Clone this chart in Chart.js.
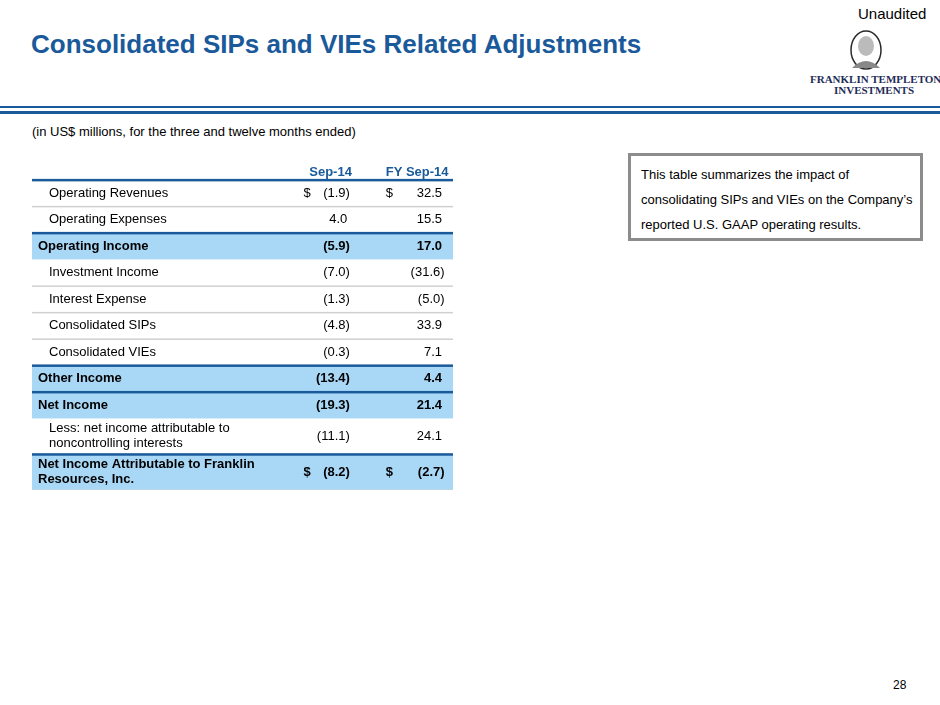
<!DOCTYPE html>
<html>
<head>
<meta charset="utf-8">
<script src="https://cdn.jsdelivr.net/npm/chart.js@4"></script>
<style>
  body { margin: 0; width: 940px; height: 705px; position: relative; background: #fff; font-family: "Liberation Sans", Arial, sans-serif; overflow: hidden; }
  .abs { position: absolute; white-space: nowrap; }
  #title { left: 31px; top: 29px; font-size: 26px; font-weight: bold; color: #1a5a9a; }
  #unaud { left: 858px; top: 5px; font-size: 15px; color: #000; }
  #sub { left: 32px; top: 124px; font-size: 13px; color: #000; }
  #note { left: 628px; top: 153px; width: 279px; height: 76px; border: 3px solid #8c8c8c; font-size: 13px; line-height: 25px; padding: 6px 0 0 10px; box-sizing: content-box; }
  #page { left: 893px; top: 678px; font-size: 12px; }
  .line { position: absolute; left: 0; width: 940px; background: #1a5a9a; }
  .logo { font-family: "Liberation Serif", serif; color: #1f2d58; font-size: 11px; font-weight: bold; }
  #wrap { position: absolute; left: 32px; top: 160px; width: 421px; height: 330px; }
</style>
</head>
<body>
<div class="abs" id="unaud">Unaudited</div>
<div class="abs" id="title">Consolidated SIPs and VIEs Related Adjustments</div>
<svg class="abs" style="left:842px;top:28px" width="48" height="44">
  <ellipse cx="24" cy="22" rx="15" ry="19" fill="none" stroke="#2a2a2a" stroke-width="1.5"/>
  <ellipse cx="24" cy="18" rx="8" ry="10" fill="#bbb"/>
  <path d="M10 40 Q24 26 38 40" fill="#888"/>
</svg>
<div class="abs logo" style="left:810px;top:73px">FRANKLIN TEMPLETON</div>
<div class="abs logo" style="left:834px;top:84px">INVESTMENTS</div>
<div class="line" style="top:106px;height:2px"></div>
<div class="line" style="top:111px;height:3px"></div>
<div class="abs" id="sub">(in US$ millions, for the three and twelve months ended)</div>
<div class="abs" id="note">This table summarizes the impact of<br>consolidating SIPs and VIEs on the Company’s<br>reported U.S. GAAP operating results.</div>
<div class="abs" id="page">28</div>
<div id="wrap"><canvas id="tbl"></canvas></div>
<script>
// dati della tabella
var rowLabels = ["Operating Revenues", "Operating Expenses", "Operating Income", "Investment Income", "Interest Expense",
  "Consolidated SIPs", "Consolidated VIEs", "Other Income", "Net Income",
  "Less: net income attributable to\nnoncontrolling interests", "Net Income Attributable to Franklin\nResources, Inc."];
var colHeaders = ["Sep-14", "FY Sep-14"];
var sep14 = [-1.9, 4.0, -5.9, -7.0, -1.3, -4.8, -0.3, -13.4, -19.3, -11.1, -8.2];
var fySep14 = [32.5, 15.5, 17.0, -31.6, -5.0, 33.9, 7.1, 4.4, 21.4, 24.1, -2.7];
var totalRows = [false, false, true, false, false, false, false, true, true, false, true];
var dollarRows = [true, false, false, false, false, false, false, false, false, false, true];
var rowSpan = [1, 1, 1, 1, 1, 1, 1, 1, 1, 1.35, 1.35];

// confini delle righe in "unità riga"
var bounds = [0];
for (var i = 0; i < rowSpan.length; i++) bounds.push(bounds[i] + rowSpan[i]);
var headUnits = 0.75;

function fmt(v) {
  var s = Math.abs(v).toFixed(1);
  return v < 0 ? "(" + s + ")" : s + "\u2009";
}

var tablePlugin = {
  id: "tablePlugin",
  afterDraw: function (chart) {
    var ctx = chart.ctx;
    var y = chart.scales.y;
    var x = chart.scales.x;
    var left = x.getPixelForValue(0), right = x.getPixelForValue(100);
    var c1 = x.getPixelForValue(75.5), c2 = x.getPixelForValue(98);
    var d1 = x.getPixelForValue(64.5), d2 = x.getPixelForValue(84);
    ctx.save();
    // intestazione
    ctx.font = "bold 13px 'Liberation Sans', Arial";
    ctx.fillStyle = "#1a5a9a";
    ctx.textAlign = "right";
    ctx.textBaseline = "middle";
    var hy = y.getPixelForValue(-headUnits / 2 + 0.1);
    ctx.fillText(colHeaders[0], c1 + 2, hy);
    ctx.fillText(colHeaders[1], c2 + 4, hy);
    for (var i = 0; i < rowLabels.length; i++) {
      var top = y.getPixelForValue(bounds[i]), bot = y.getPixelForValue(bounds[i + 1]);
      var mid = (top + bot) / 2;
      if (totalRows[i]) {
        ctx.fillStyle = "#a8d8f6";
        ctx.fillRect(left, top, right - left, bot - top);
        ctx.fillStyle = "#1a5a9a";
        ctx.fillRect(left, top - 1, right - left, 2.5);
      } else {
        if (i === 0) {
          ctx.fillStyle = "#1a5a9a";
          ctx.fillRect(left, top - 1, right - left, 2.5);
        }
        ctx.fillStyle = "#d0d0d0";
        ctx.fillRect(left, bot - 0.5, right - left, 1.5);
      }
      if (i === rowLabels.length - 1) {
        ctx.fillStyle = "#d0d0d0";
        ctx.fillRect(left, bot - 0.5, right - left, 1.5);
      }
      ctx.fillStyle = "#000";
      ctx.font = (totalRows[i] ? "bold " : "") + "13px 'Liberation Sans', Arial";
      ctx.textAlign = "left";
      var lines = rowLabels[i].split("\n");
      var lx = totalRows[i] ? left + 6 : left + 17;
      for (var k = 0; k < lines.length; k++) {
        ctx.fillText(lines[k], lx, mid + (k - (lines.length - 1) / 2) * 15);
      }
      ctx.textAlign = "right";
      ctx.fillText(fmt(sep14[i]), c1, mid);
      ctx.fillText(fmt(fySep14[i]), c2, mid);
      if (dollarRows[i]) {
        ctx.textAlign = "left";
        ctx.fillText("$", d1, mid);
        ctx.fillText("$", d2, mid);
      }
    }
    ctx.restore();
  }
};

new Chart(document.getElementById("tbl"), {
  type: "bar",
  data: { labels: rowLabels, datasets: [{ data: [], backgroundColor: "rgba(0,0,0,0)" }] },
  options: {
    responsive: true,
    maintainAspectRatio: false,
    animation: false,
    events: [],
    layout: { padding: 0 },
    plugins: { legend: { display: false }, tooltip: { enabled: false } },
    scales: {
      x: { type: "linear", min: 0, max: 100, display: false, offset: false },
      y: { type: "linear", min: -headUnits, max: bounds[bounds.length - 1], reverse: true, display: false, offset: false }
    }
  },
  plugins: [tablePlugin]
});
</script>
</body>
</html>
